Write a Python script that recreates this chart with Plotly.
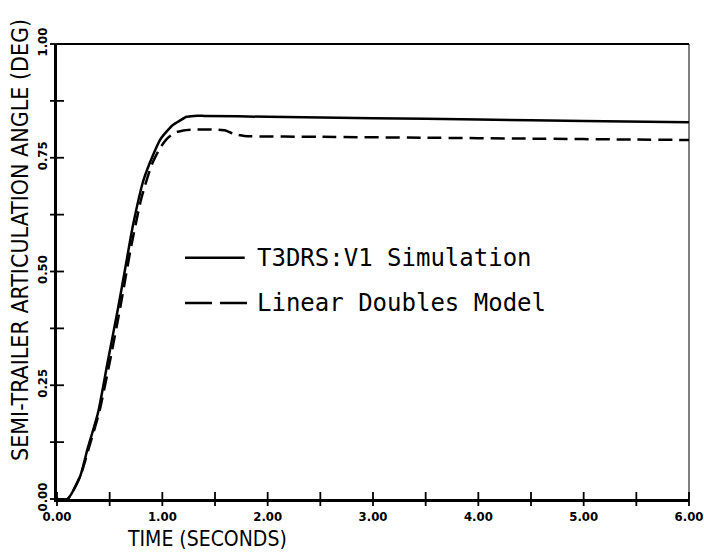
import plotly.graph_objects as go

# Semi-trailer articulation angle response (degrees) vs time (seconds)
time_sim = [0.0, 0.10, 0.22, 0.29, 0.39, 0.48, 0.58, 0.65, 0.72, 0.82, 0.91, 0.98,
            1.05, 1.10, 1.17, 1.23, 1.30, 1.40, 2.0, 3.0, 4.0, 5.0, 6.0]
angle_sim = [0.0, 0.0, 0.05, 0.11, 0.19, 0.30, 0.42, 0.51, 0.60, 0.70, 0.755, 0.79,
             0.81, 0.822, 0.832, 0.840, 0.842, 0.842, 0.840, 0.837, 0.834, 0.831, 0.828]

time_lin = [0.0, 0.10, 0.22, 0.30, 0.40, 0.50, 0.60, 0.70, 0.80, 0.90, 0.98, 1.05,
            1.12, 1.20, 1.30, 1.50, 1.60, 1.68, 1.78, 2.5, 3.5, 4.5, 5.5, 6.0]
angle_lin = [0.0, 0.0, 0.05, 0.11, 0.19, 0.30, 0.42, 0.55, 0.66, 0.735, 0.772, 0.793,
             0.805, 0.810, 0.812, 0.812, 0.810, 0.802, 0.798, 0.796, 0.794, 0.792, 0.790, 0.789]

x_ticks_minor = [0.5 * i for i in range(13)]
y_ticks_minor = [0.125 * i for i in range(9)]
x_label_vals = [0, 1, 2, 3, 4, 5, 6]
x_label_text = ["0.00", "1.00", "2.00", "3.00", "4.00", "5.00", "6.00"]
y_label_vals = [0, 0.25, 0.5, 0.75, 1.0]
y_label_text = ["0.00", "0.25", "0.50", "0.75", "1.00"]

legend_names = ["T3DRS:V1 Simulation", "Linear Doubles Model"]

fig = go.Figure()

fig.add_trace(go.Scatter(x=time_sim, y=angle_sim, mode="lines",
                         line=dict(color="black", width=2.5, shape="spline", smoothing=0.6),
                         showlegend=False, name=legend_names[0]))
fig.add_trace(go.Scatter(x=time_lin, y=angle_lin, mode="lines",
                         line=dict(color="black", width=2.5, dash="14px,7px",
                                   shape="spline", smoothing=0.6),
                         showlegend=False, name=legend_names[1]))

# crossing tick marks on both axes
fig.add_trace(go.Scatter(x=x_ticks_minor, y=[0] * len(x_ticks_minor), mode="markers",
                         marker=dict(symbol="line-ns", size=10,
                                     line=dict(width=1.8, color="black")),
                         cliponaxis=False, showlegend=False, hoverinfo="skip"))
fig.add_trace(go.Scatter(x=[0] * len(y_ticks_minor), y=y_ticks_minor, mode="markers",
                         marker=dict(symbol="line-ew", size=10,
                                     line=dict(width=1.8, color="black")),
                         cliponaxis=False, showlegend=False, hoverinfo="skip"))

tick_font = dict(family="DejaVu Sans Condensed, Liberation Sans Narrow, sans-serif",
                 size=13, color="black", weight="bold")
x_title_font = dict(family="DejaVu Sans Condensed, Liberation Sans Narrow, sans-serif",
                    size=21, color="black")
y_title_font = dict(family="DejaVu Sans Condensed, Liberation Sans Narrow, sans-serif",
                    size=23, color="black")
legend_font = dict(family="DejaVu Sans Mono, Liberation Mono, monospace",
                   size=24, color="black")

fig.update_layout(
    width=704, height=553,
    margin=dict(l=57, r=15, t=44, b=54),
    paper_bgcolor="white", plot_bgcolor="white",
    xaxis=dict(range=[0, 6], showgrid=False, zeroline=False, automargin=False,
               showline=True, linewidth=2.5, linecolor="black",
               ticks="", tickvals=x_label_vals, ticktext=x_label_text,
               tickfont=tick_font, ticklabelstandoff=4),
    yaxis=dict(range=[0, 1], showgrid=False, zeroline=False, automargin=False,
               showline=True, linewidth=2.5, linecolor="black",
               ticks="", tickvals=y_label_vals, ticktext=y_label_text,
               tickangle=-90, tickfont=tick_font, ticklabelstandoff=2),
    shapes=[
        # top and right frame lines
        dict(type="line", xref="paper", yref="paper", x0=0, x1=1, y0=1, y1=1,
             line=dict(color="black", width=2.2)),
        dict(type="line", xref="paper", yref="paper", x0=1, x1=1, y0=0, y1=1,
             line=dict(color="black", width=1)),
        # legend samples
        dict(type="line", xref="paper", yref="paper", x0=0.2025, x1=0.297,
             y0=0.530, y1=0.530, line=dict(color="black", width=2.5)),
        dict(type="line", xref="paper", yref="paper", x0=0.2025, x1=0.305,
             y0=0.431, y1=0.431, line=dict(color="black", width=2.5, dash="27px,8px")),
    ],
    annotations=[
        dict(text=legend_names[0], xref="paper", yref="paper", x=0.313, y=0.530,
             xanchor="left", yanchor="middle", showarrow=False, font=legend_font),
        dict(text=legend_names[1], xref="paper", yref="paper", x=0.313, y=0.431,
             xanchor="left", yanchor="middle", showarrow=False, font=legend_font),
        dict(text="TIME (SECONDS)", xref="paper", yref="paper",
             x=(207 - 57) / 632, y=(499 - 539) / 455, xanchor="center", yanchor="middle",
             showarrow=False, font=x_title_font),
        dict(text="SEMI-TRAILER ARTICULATION ANGLE (DEG)", xref="paper", yref="paper",
             x=(20 - 57) / 632, y=(499 - 240) / 455, xanchor="center", yanchor="middle",
             textangle=-90, showarrow=False, font=y_title_font),
    ],
)

fig.write_html("out.html")
